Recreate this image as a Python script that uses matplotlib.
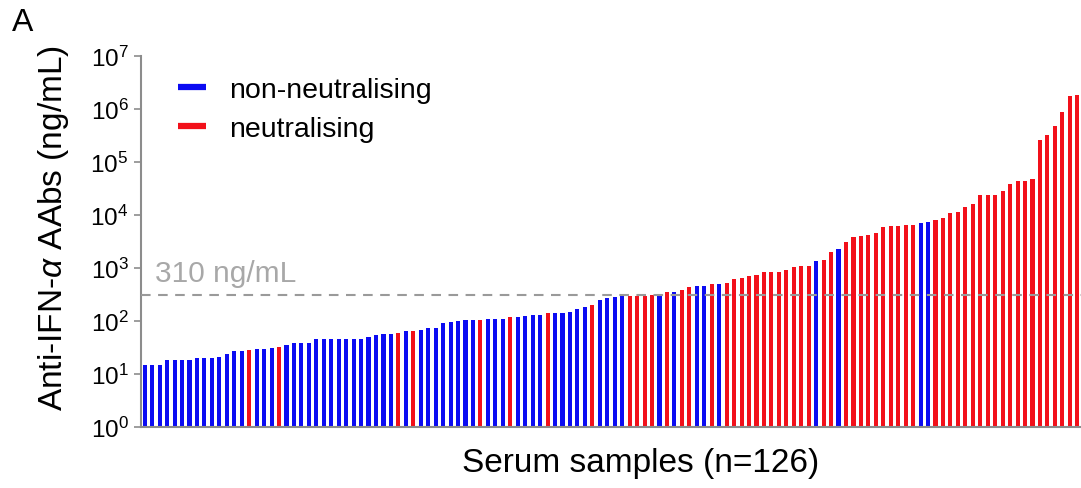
import matplotlib.pyplot as plt
from matplotlib.lines import Line2D

plt.rcParams['font.family'] = ['Liberation Sans', 'DejaVu Sans']
plt.rcParams['mathtext.fontset'] = 'custom'
plt.rcParams['mathtext.rm'] = 'Liberation Sans'
plt.rcParams['mathtext.it'] = 'Liberation Sans:italic'

# anti-IFN-alpha autoantibody levels per serum sample (ng/mL), sorted
titers = [
    15, 15, 15, 18, 18, 18, 18, 20, 20, 20,
    21, 24, 27, 27, 28, 29, 30, 31, 33, 35,
    38, 38, 39, 45, 45, 45, 45, 46, 46, 46,
    49, 55, 56, 57, 59, 65, 66, 69, 74, 74,
    91, 95, 100, 105, 105, 106, 110, 110, 110, 117,
    117, 123, 129, 132, 141, 141, 141, 145, 166, 186,
    204, 251, 269, 282, 295, 295, 295, 302, 309, 324,
    347, 355, 380, 447, 457, 457, 490, 490, 525, 617,
    646, 692, 724, 832, 832, 851, 912, 1047, 1096, 1096,
    1349, 1445, 2042, 2291, 3162, 3802, 4074, 4266, 4571, 5888,
    6310, 6310, 6607, 6607, 6918, 7244, 7943, 8913, 10700, 11500,
    14100, 15800, 23400, 23400, 24000, 28200, 38000, 43600, 43600, 47900,
    263000, 324000, 468000, 871000, 1780000, 1860000,
]

# 1 = neutralising, 0 = non-neutralising
neutralising = [
    0, 0, 0, 0, 0, 0, 0, 0, 0, 0,
    0, 0, 0, 0, 1, 0, 0, 0, 1, 0,
    0, 0, 0, 0, 0, 0, 0, 0, 0, 0,
    0, 0, 0, 0, 1, 0, 1, 0, 0, 0,
    0, 0, 0, 0, 0, 1, 0, 0, 0, 1,
    0, 0, 0, 0, 1, 0, 0, 0, 0, 0,
    1, 0, 0, 0, 0, 1, 1, 1, 1, 0,
    1, 0, 1, 1, 0, 0, 1, 0, 1, 1,
    1, 1, 1, 1, 1, 1, 1, 1, 1, 1,
    0, 1, 1, 0, 1, 1, 1, 1, 1, 1,
    1, 1, 1, 1, 0, 0, 1, 1, 1, 1,
    1, 1, 1, 1, 1, 1, 1, 1, 1, 1,
    1, 1, 1, 1, 1, 1,
]

cutoff = 310
blue = '#0b0bf2'
red = '#f2101a'
grey = '#8c8c8c'

fig = plt.figure(figsize=(10.81, 4.89), dpi=100)
ax = fig.add_axes([141 / 1081, 61 / 489, 940 / 1081, 371 / 489])

x = list(range(len(titers)))
colors = [red if n else blue for n in neutralising]
ax.bar(x, titers, width=0.55, color=colors)

ax.set_yscale('log')
ax.set_ylim(1, 1e7)
ax.set_xlim(-0.5, len(titers) - 0.5)
ax.set_yticks([10 ** k for k in range(8)])
ax.minorticks_off()
ax.set_xticks([])

# 310 ng/mL cut-off
ax.axhline(cutoff, color='#9a9a9a', lw=1.5, ls=(0, (4.6, 3.6)), zorder=3)
ax.text(14 / 940, 560, '310 ng/mL', transform=ax.get_yaxis_transform(),
        color='#a8a8a8', fontsize=21.5, va='baseline', ha='left')

for side in ['top', 'right']:
    ax.spines[side].set_visible(False)
for side in ['left', 'bottom']:
    ax.spines[side].set_color(grey)
    ax.spines[side].set_linewidth(1.5)
ax.tick_params(axis='y', direction='out', length=5, width=1.2, color=grey,
               labelsize=17.5, pad=4)

ax.set_ylabel(r'Anti-IFN-$\alpha$ AAbs (ng/mL)', fontsize=24)
ax.yaxis.set_label_coords(-0.074, 0.54)
ax.set_xlabel('Serum samples (n=126)', fontsize=24)
ax.xaxis.set_label_coords(0.531, -0.054)

handles = [Line2D([0], [0], color=blue, lw=4.5, solid_capstyle='butt'),
           Line2D([0], [0], color=red, lw=4.5, solid_capstyle='butt')]
ax.legend(handles, ['non-neutralising', 'neutralising'], loc='upper left',
          bbox_to_anchor=(0.012, 1.012), frameon=False, fontsize=20.5,
          handlelength=1.0, handletextpad=0.8, labelspacing=0.45)

fig.text(12 / 1081, 1 - 23 / 489, 'A', fontsize=23, va='center', ha='left')

fig.savefig('out.png', dpi=100)
